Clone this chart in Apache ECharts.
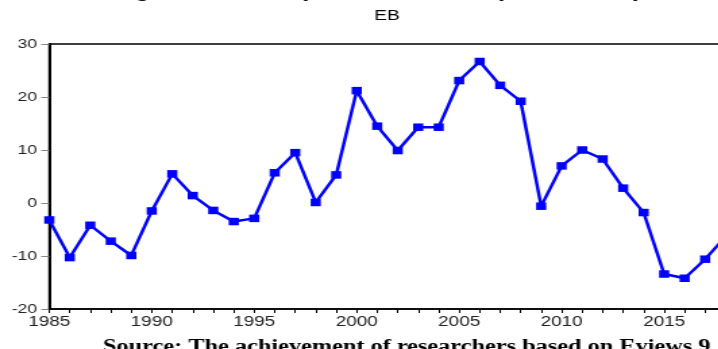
<!DOCTYPE html>
<html>
<head>
<meta charset="utf-8">
<script src="https://cdn.jsdelivr.net/npm/echarts@6/dist/echarts.min.js"></script>
<style>
  html, body { margin: 0; padding: 0; background: #fff; overflow: hidden; }
  /* EViews-style export is wider than tall in its glyphs and markers */
  #chart { width: 532px; height: 349px; transform: scaleX(1.35); transform-origin: 0 0; }
</style>
</head>
<body>
<div id="chart"></div>
<script>
// Annual EB series, 1985-2018
const years = [1985, 1986, 1987, 1988, 1989, 1990, 1991, 1992, 1993, 1994,
               1995, 1996, 1997, 1998, 1999, 2000, 2001, 2002, 2003, 2004,
               2005, 2006, 2007, 2008, 2009, 2010, 2011, 2012, 2013, 2014,
               2015, 2016, 2017, 2018];
const eb = [-3.2, -10.3, -4.2, -7.2, -9.9, -1.5, 5.5, 1.4, -1.4, -3.5,
            -2.9, 5.7, 9.5, 0.1, 5.3, 21.2, 14.5, 9.9, 14.3, 14.3,
            23.1, 26.7, 22.2, 19.2, -0.6, 7.0, 10.0, 8.3, 2.8, -1.8,
            -13.4, -14.2, -10.6, -6.3];
const yTicks = [-20, -10, 0, 10, 20, 30];

const titleText = 'Figure 1: Development of the EB (1985 - 2018)';
const seriesName = 'EB';
const sourceText = 'Source: The achievement of researchers based on Eviews 9.';

const points = years.map((y, i) => [y, eb[i]]);

const chart = echarts.init(document.getElementById('chart'));
chart.setOption({
  animation: false,
  backgroundColor: '#fff',
  grid: {
    left: 36.5, top: 44, right: -5.5, bottom: 40,
    outerBoundsMode: 'none', containLabel: false,
    show: true, borderColor: '#000', borderWidth: 1.5, backgroundColor: 'transparent'
  },
  xAxis: {
    type: 'value', min: years[0], max: years[years.length - 1], interval: 1,
    axisLine: { onZero: false, lineStyle: { color: '#000', width: 1.5 } },
    axisTick: { length: 4, lineStyle: { color: '#000', width: 1 } },
    splitLine: { show: false },
    axisLabel: {
      margin: 6, fontFamily: 'Liberation Sans', fontSize: 14, color: '#222',
      formatter: v => (v % 5 === 0 ? String(v) : '')
    }
  },
  yAxis: {
    type: 'value', min: yTicks[0], max: yTicks[yTicks.length - 1], interval: 10,
    axisLine: { show: true, lineStyle: { color: '#000', width: 2 } },
    axisTick: { show: true, length: 6, lineStyle: { color: '#888', width: 1 } },
    splitLine: { show: false },
    axisLabel: { margin: 9, fontFamily: 'Liberation Sans', fontSize: 13, color: '#222' }
  },
  series: [{
    name: seriesName,
    type: 'line',
    data: points,
    symbol: 'rect',
    symbolSize: 7.5,
    showAllSymbol: true,
    lineStyle: { color: '#0000ff', width: 2.5 },
    itemStyle: { color: '#0000ff' }
  }],
  graphic: [
    {
      type: 'text', x: 84, y: -7.5,
      style: { text: titleText, font: 'bold 18px "Liberation Sans"', fill: '#000', verticalAlign: 'middle' }
    },
    {
      type: 'text', x: 286.7, y: 16,
      style: { text: seriesName, font: '14px "Liberation Sans"', fill: '#000', align: 'center', verticalAlign: 'middle' }
    },
    {
      type: 'text', x: 76.3, y: 347,
      style: { text: sourceText, font: 'bold 18px "Liberation Serif"', fill: '#000', verticalAlign: 'middle' }
    }
  ]
});
</script>
</body>
</html>
